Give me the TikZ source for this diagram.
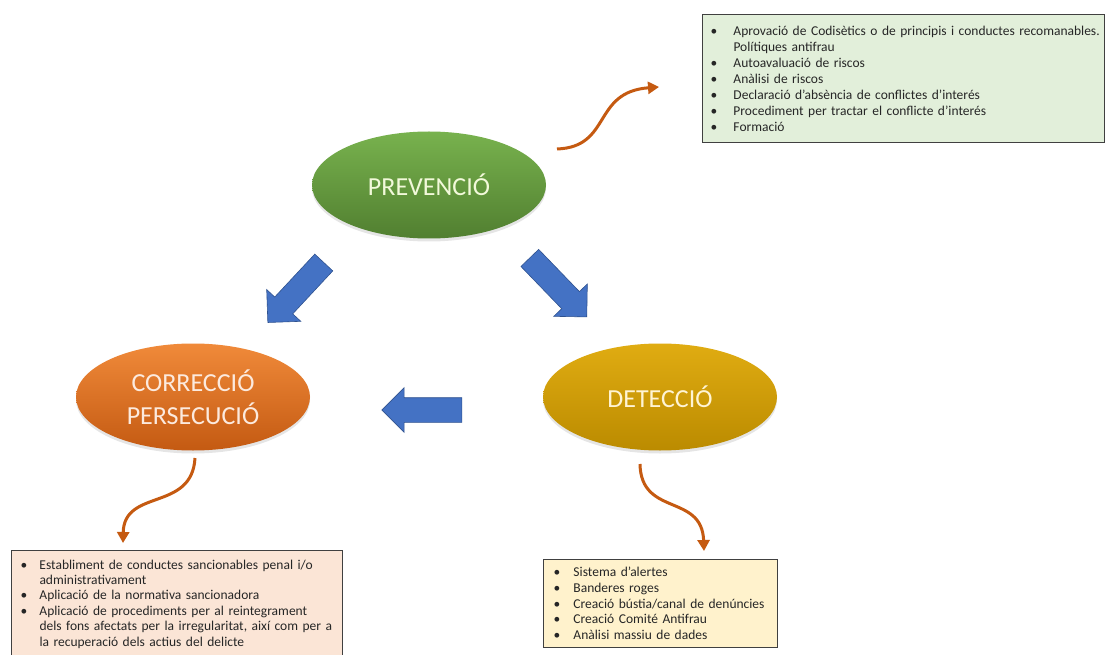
\documentclass[tikz,border=0pt]{standalone}
\usepackage{fontspec}
\setmainfont{Carlito}
\usetikzlibrary{shapes.geometric,shapes.arrows,arrows.meta,shadows}
\definecolor{prevtop}{HTML}{78B24E}
\definecolor{prevbot}{HTML}{517F30}
\definecolor{corrtop}{HTML}{F08A3A}
\definecolor{corrbot}{HTML}{C45A12}
\definecolor{dettop}{HTML}{E0AC12}
\definecolor{detbot}{HTML}{BB8B00}
\definecolor{blockblue}{HTML}{4472C4}
\definecolor{blockedge}{HTML}{2F528F}
\definecolor{curveor}{HTML}{C55A11}
\definecolor{boxgreen}{HTML}{E2EFDA}
\definecolor{boxpink}{HTML}{FBE5D6}
\definecolor{boxyellow}{HTML}{FFF2CC}
\definecolor{boxedge}{HTML}{404040}
\newcommand{\bitemA}{\makebox[23pt][l]{\textbullet}}
\newcommand{\citemA}{\hspace*{23pt}}
\newcommand{\bitemB}{\makebox[19pt][l]{\textbullet}}
\newcommand{\citemB}{\hspace*{19pt}}
\newcommand{\bitemC}{\makebox[20pt][l]{\textbullet}}
\newcommand{\boxfont}[1]{\fontsize{13.5}{#1}\selectfont\spaceskip=2.4pt plus 1pt\relax}
\begin{document}
\begin{tikzpicture}[x=1pt,y=-1pt,
  stage/.style={ellipse, minimum width=234pt, minimum height=107pt, inner sep=0pt,
    align=center, font=\fontsize{26}{33}\selectfont,
    drop shadow={opacity=0.2, shadow xshift=0pt, shadow yshift=-3pt}},
  blockarrow/.style={single arrow, fill=blockblue, draw=blockedge, line width=0.6pt,
    inner xsep=0pt, inner ysep=12pt, single arrow head extend=11pt,
    single arrow tip angle=90, minimum height=82pt},
  infobox/.style={draw=boxedge, line width=1pt, anchor=north west, align=left,
    text=black!85, inner ysep=0pt},
  wavy/.style={draw=curveor, line width=3pt, -{Triangle[length=11pt,width=12pt]}}
]
\useasboundingbox[fill=white] (0,0) rectangle (1106,655);

% stage ellipses
\node[stage, top color=prevtop, bottom color=prevbot, text=white!90!yellow!95!green]
  (prev) at (429,185) {PREVENCIÓ};
\node[stage, top color=corrtop, bottom color=corrbot, text=boxpink!80!white]
  (corr) at (193,397) {CORRECCIÓ\\PERSECUCIÓ};
\node[stage, top color=dettop, bottom color=detbot, text=boxyellow!85!white]
  (det) at (660,397) {DETECCIÓ};

% block arrows
\node[blockarrow, rotate=227] (a1) at (300,288) {};
\node[blockarrow, rotate=-46] (a2) at (554,283) {};
\node[blockarrow, rotate=180, minimum height=80pt, single arrow head extend=10pt]
  (a3) at (428,410) {};

% info boxes
\node[infobox, fill=boxgreen, minimum width=402pt, minimum height=128pt,
  text width=386pt, inner xsep=8pt, font=\boxfont{16}]
  (bprev) at (702,14) {%
  \mbox{\bitemA Aprovació de Codisètics o de principis i conductes recomanables.}\\
  \citemA Polítiques antifrau\\
  \bitemA Autoavaluació de riscos\\
  \bitemA Anàlisi de riscos\\
  \bitemA Declaració d'absència de conflictes d'interés\\
  \bitemA Procediment per tractar el conflicte d'interés\\
  \bitemA Formació};
\node[infobox, fill=boxpink, minimum width=331pt, minimum height=107pt,
  text width=313pt, inner xsep=9pt, font=\boxfont{15.4}]
  (bcorr) at (11,550) {%
  \mbox{\bitemB Establiment de conductes sancionables penal i/o}\\
  \citemB administrativament\\
  \mbox{\bitemB Aplicació de la normativa sancionadora}\\
  \mbox{\bitemB Aplicació de procediments per al reintegrament}\\
  \mbox{\citemB dels fons afectats per la irregularitat, així com per a}\\
  \mbox{\citemB la recuperació dels actius del delicte}};
\node[infobox, fill=boxyellow, minimum width=234pt, minimum height=88pt,
  text width=214pt, inner xsep=10pt, font=\boxfont{15.7}]
  (bdet) at (543,559) {%
  \mbox{\bitemC Sistema d’alertes}\\
  \mbox{\bitemC Banderes roges}\\
  \mbox{\bitemC Creació bústia/canal de denúncies}\\
  \mbox{\bitemC Creació Comité Antifrau}\\
  \mbox{\bitemC Anàlisi massiu de dades}};

% curved orange arrows
\coordinate (c1s) at (557,149);
\coordinate (c1e) at (659,87);
\coordinate (c2s) at (195,458);
\coordinate (c2e) at (123,543);
\coordinate (c3s) at (640,464);
\coordinate (c3e) at (704,551);
\draw[wavy] (c1s) .. controls (612,147) and (592,92) .. (c1e);
\draw[wavy] (c2s) .. controls (192,512) and (124,488) .. (c2e);
\draw[wavy] (c3s) .. controls (641,517) and (702,493) .. (c3e);
\end{tikzpicture}
\end{document}
